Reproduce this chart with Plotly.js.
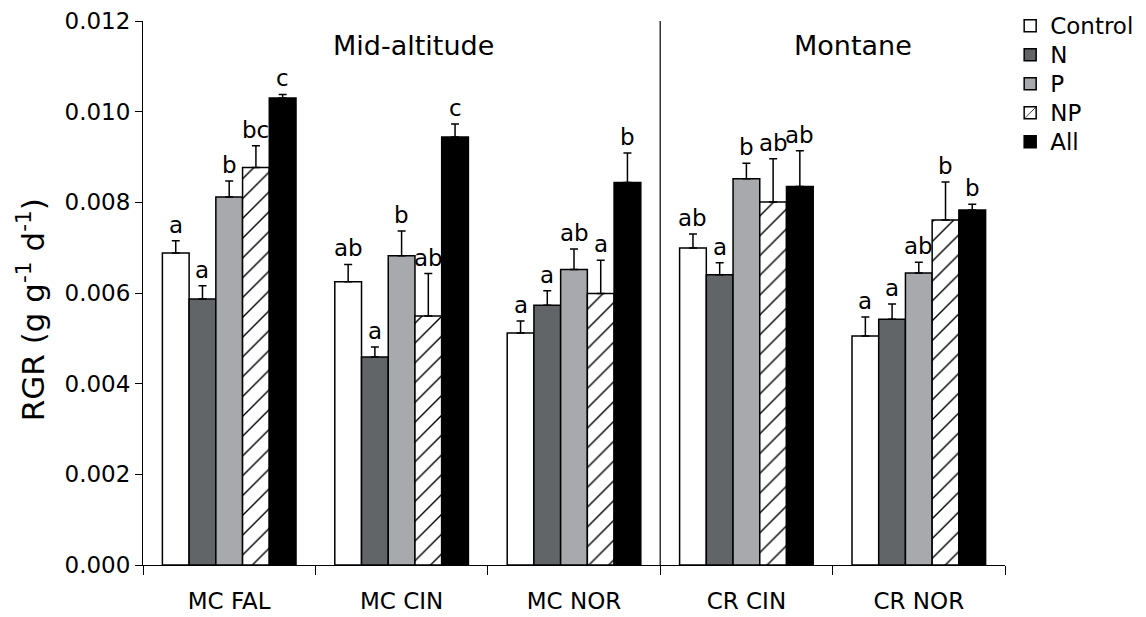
<!DOCTYPE html>
<html>
<head>
<meta charset="utf-8">
<script src="https://cdn.plot.ly/plotly-3.0.1.min.js"></script>
<style>html,body{margin:0;padding:0;background:#fff;}#chart{width:1146px;height:617px;}</style>
</head>
<body>
<div id="chart"></div>
<script>
// ---- data ----
const categories = ['MC FAL', 'MC CIN', 'MC NOR', 'CR CIN', 'CR NOR'];
const treatments = ['Control', 'N', 'P', 'NP', 'All'];
const rgrControl = [0.00688, 0.00625, 0.00512, 0.00699, 0.00505];
const rgrN       = [0.00587, 0.00459, 0.00573, 0.00640, 0.00542];
const rgrP       = [0.00812, 0.00682, 0.00652, 0.00852, 0.00644];
const rgrNP      = [0.00877, 0.00549, 0.00599, 0.00801, 0.00761];
const rgrAll     = [0.01030, 0.00944, 0.00844, 0.00835, 0.00783];
const seControl  = [0.00027, 0.00038, 0.00026, 0.00031, 0.00042];
const seN        = [0.00029, 0.00022, 0.00032, 0.00027, 0.00034];
const seP        = [0.00035, 0.00055, 0.00045, 0.00034, 0.00024];
const seNP       = [0.00048, 0.00094, 0.00073, 0.00095, 0.00084];
const seAll      = [0.00008, 0.00029, 0.00065, 0.00079, 0.00013];
const lettersControl = ['a', 'ab', 'a', 'ab', 'a'];
const lettersN       = ['a', 'a', 'a', 'a', 'a'];
const lettersP       = ['b', 'b', 'ab', 'b', 'ab'];
const lettersNP      = ['bc', 'ab', 'a', 'ab', 'b'];
const lettersAll     = ['c', 'c', 'b', 'ab', 'b'];
const regionNames = ['Mid-altitude', 'Montane'];
const regionGroups = [[0, 1, 2], [3, 4]];
const yTickVals = [0, 0.002, 0.004, 0.006, 0.008, 0.010, 0.012];
const yTitle = 'RGR (g g<sup>-1</sup> d<sup>-1</sup>)';

// ---- styles ----
const FONT = 'DejaVu Sans, Verdana, sans-serif';
const BARGAP = 0.225;
const series = [
  {name: treatments[0], y: rgrControl, se: seControl, lab: lettersControl, color: '#ffffff'},
  {name: treatments[1], y: rgrN, se: seN, lab: lettersN, color: '#626568'},
  {name: treatments[2], y: rgrP, se: seP, lab: lettersP, color: '#a7a9ac'},
  {name: treatments[3], y: rgrNP, se: seNP, lab: lettersNP, color: '#ffffff', pattern: true},
  {name: treatments[4], y: rgrAll, se: seAll, lab: lettersAll, color: '#000000'}
];

const traces = series.map(s => {
  const marker = {color: s.color, line: {color: '#000', width: 1.5}};
  if (s.pattern) {
    marker.pattern = {shape: '/', fgcolor: '#000', bgcolor: '#fff', size: 14, solidity: 0.1, fillmode: 'replace'};
  }
  return {
    type: 'bar', name: '<span style="font-size:23px">' + s.name + '</span>',
    x: categories, y: s.y, marker: marker,
    error_y: {type: 'data', array: s.se, arrayminus: s.se.map(() => 0), symmetric: false,
              color: '#000', thickness: 1.5, width: 4},
    hoverinfo: 'skip'
  };
});

const annotations = [];
const w = (1 - BARGAP) / series.length;
series.forEach((s, i) => {
  s.y.forEach((v, j) => {
    annotations.push({
      xref: 'x', yref: 'y', x: j + (i - (series.length - 1) / 2) * w, y: v + s.se[j],
      text: s.lab[j], showarrow: false, yanchor: 'bottom', xanchor: 'center', yshift: 1,
      font: {family: FONT, size: 23, color: '#000'}
    });
  });
});
regionGroups.forEach((g, k) => {
  const cx = (g[0] + g[g.length - 1]) / 2;
  annotations.push({
    xref: 'x', yref: 'paper', x: cx + (k === 0 ? 0.07 : 0.12), y: 0.955, text: regionNames[k],
    showarrow: false, xanchor: 'center', yanchor: 'middle',
    font: {family: FONT, size: 27, color: '#000'}
  });
});
annotations.push({
  xref: 'paper', yref: 'paper', x: -0.13, y: 0.47, text: yTitle, textangle: -90,
  showarrow: false, xanchor: 'center', yanchor: 'middle',
  font: {family: FONT, size: 31, color: '#000'}
});

const sepX = regionGroups[1][0] - 0.5;
const layout = {
  width: 1146, height: 617,
  margin: {l: 143, r: 141, t: 21, b: 52, pad: 0, autoexpand: false},
  paper_bgcolor: '#fff', plot_bgcolor: '#fff',
  barmode: 'group', bargap: BARGAP, bargroupgap: 0,
  font: {family: FONT, size: 23, color: '#000'},
  xaxis: {
    type: 'category', showline: true, linecolor: '#000', linewidth: 1,
    ticks: 'outside', tickson: 'boundaries', ticklen: 9, tickcolor: '#000', tickwidth: 1,
    ticklabelstandoff: 15, automargin: false,
    showgrid: false, zeroline: false, tickfont: {family: FONT, size: 23}
  },
  yaxis: {
    range: [0, 0.012], tickvals: yTickVals, tickformat: '.3f', automargin: false,
    showline: true, linecolor: '#000', linewidth: 1,
    ticks: 'outside', ticklen: 7, tickcolor: '#000', tickwidth: 1,
    showgrid: false, zeroline: false, tickfont: {family: FONT, size: 23}
  },
  legend: {
    x: 1.006, xanchor: 'left', y: 1.027, yanchor: 'top',
    font: {family: FONT, size: 20}, bgcolor: 'rgba(0,0,0,0)', traceorder: 'normal',
    tracegroupgap: 0
  },
  shapes: [{type: 'line', xref: 'x', yref: 'y', x0: sepX, x1: sepX, y0: 0, y1: 0.012,
            line: {color: '#000', width: 1.2}}],
  annotations: annotations,
  showlegend: true
};

Plotly.newPlot('chart', traces, layout, {staticPlot: true, displayModeBar: false});
</script>
</body>
</html>
